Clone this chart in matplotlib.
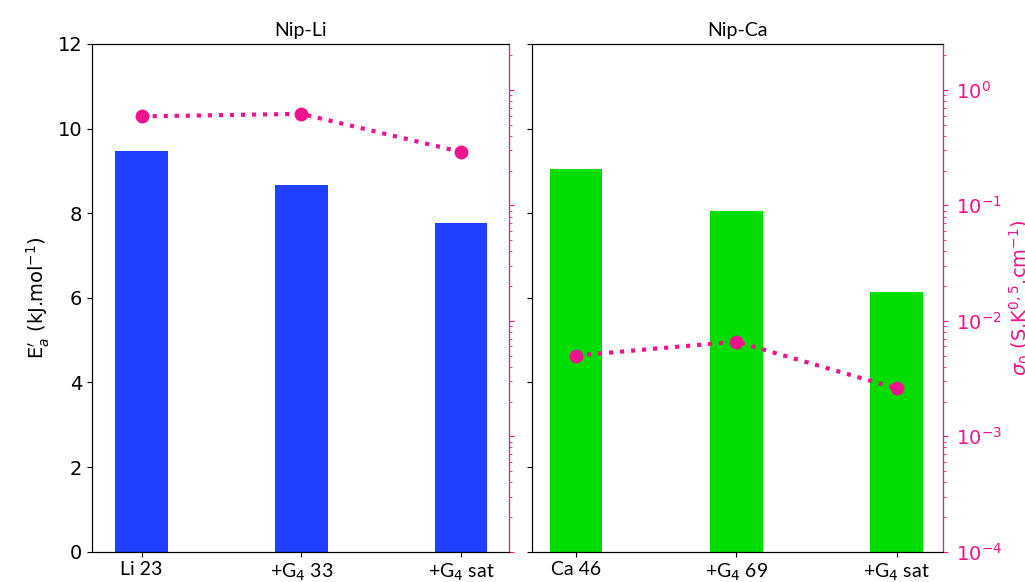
import matplotlib
matplotlib.use('Agg')
import matplotlib.pyplot as plt
import numpy as np

# data
li_labels = ['Li 23', '+G$_4$ 33', '+G$_4$ sat']
ca_labels = ['Ca 46', '+G$_4$ 69', '+G$_4$ sat']
li_ea = [9.47, 8.67, 7.77]
ca_ea = [9.05, 8.06, 6.14]
li_sigma = [0.59, 0.62, 0.29]
ca_sigma = [0.0050, 0.0066, 0.0026]

pink = '#f0148c'
x = np.arange(3)

fig = plt.figure(figsize=(10.25, 5.82), dpi=100)
ax1 = fig.add_axes([0.0898, 0.052, 0.4068, 0.8725])
ax2 = fig.add_axes([0.519, 0.052, 0.401, 0.8725], sharey=ax1)

ax1.bar(x, li_ea, width=0.33, color='#2040ff')
ax2.bar(x, ca_ea, width=0.33, color='#00dd00')
ax1.set_ylim(0, 12)
ax1.set_xlim(-0.31, 2.3)
ax2.set_xlim(-0.275, 2.29)

ax1.set_title('Nip-Li', fontsize=14, family='Lato')
ax2.set_title('Nip-Ca', fontsize=14, family='Lato')
ax1.set_ylabel(r"E$^{\prime}_{a}$ (kJ.mol$^{-1}$)", fontsize=14)

for ax, labs in ((ax1, li_labels), (ax2, ca_labels)):
    ax.set_xticks(x)
    ax.set_xticklabels(labs, fontsize=14, family='Lato')
    ax.tick_params(axis='y', labelsize=14)
ax2.tick_params(axis='y', labelleft=False)

t1 = ax1.twinx()
t2 = ax2.twinx()
t1.sharey(t2)
for t, vals in ((t1, li_sigma), (t2, ca_sigma)):
    t.plot(x, vals, ':', color=pink, lw=3, marker='o', markersize=9)
    t.set_yscale('log')
    t.spines['right'].set_color(pink)
    t.tick_params(axis='y', which='both', colors=pink)
t2.set_ylim(1e-4, 2.5)
t2.tick_params(axis='y', labelsize=14, pad=6)
t1.tick_params(axis='y', which='both', labelright=False)
t2.set_ylabel('$\\sigma_0$ (S.K$^{0,5}$.cm$^{-1}$)', fontsize=14, color=pink)

plt.savefig('out.png', dpi=100)
